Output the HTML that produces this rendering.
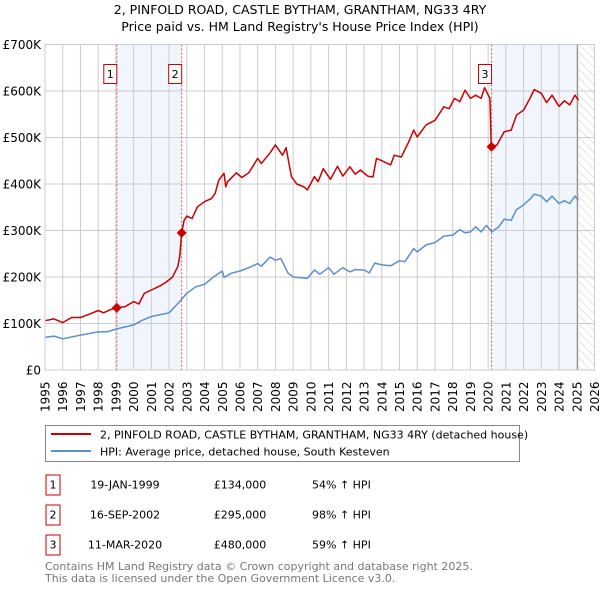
<!DOCTYPE html>
<html><head><meta charset="utf-8"><style>
body{margin:0;background:#fff;font-family:"Liberation Sans","DejaVu Sans",sans-serif;}
svg text{font-family:"DejaVu Sans","Liberation Sans",sans-serif;}
</style></head><body>
<svg id="c" width="600" height="590" xmlns="http://www.w3.org/2000/svg">
<defs><pattern id="hatch" width="6" height="6" patternUnits="userSpaceOnUse" patternTransform="rotate(-45)"><line x1="0" y1="0" x2="0" y2="6" stroke="#ccc" stroke-width="1"/></pattern></defs>
<text x="300" y="14" text-anchor="middle" font-size="12.5">2, PINFOLD ROAD, CASTLE BYTHAM, GRANTHAM, NG33 4RY</text>
<text x="300" y="31" text-anchor="middle" font-size="12.5">Price paid vs. HM Land Registry's House Price Index (HPI)</text>
<g id="plot"></g>
<rect x="45.5" y="425.5" width="474" height="36" fill="#fff" stroke="#888"/>
<line x1="51" y1="434" x2="91" y2="434" stroke="#cc0000" stroke-width="2"/>
<text x="100" y="438.5" font-size="11">2, PINFOLD ROAD, CASTLE BYTHAM, GRANTHAM, NG33 4RY (detached house)</text>
<line x1="51" y1="451" x2="91" y2="451" stroke="#5b8fd0" stroke-width="2"/>
<text x="100" y="455.5" font-size="11">HPI: Average price, detached house, South Kesteven</text>
<g font-size="11">
<rect x="46" y="475" width="14" height="20" fill="#fff" stroke="#cc0000"/><text x="53" y="488.5" text-anchor="middle">1</text>
<text x="125" y="488.5" text-anchor="middle">19-JAN-1999</text><text x="240" y="488.5" text-anchor="middle">£134,000</text><text x="312" y="488.5">54% ↑ HPI</text>
<rect x="46" y="505" width="14" height="20" fill="#fff" stroke="#cc0000"/><text x="53" y="518.5" text-anchor="middle">2</text>
<text x="125" y="518.5" text-anchor="middle">16-SEP-2002</text><text x="240" y="518.5" text-anchor="middle">£295,000</text><text x="312" y="518.5">98% ↑ HPI</text>
<rect x="46" y="535" width="14" height="20" fill="#fff" stroke="#cc0000"/><text x="53" y="548.5" text-anchor="middle">3</text>
<text x="125" y="548.5" text-anchor="middle">11-MAR-2020</text><text x="240" y="548.5" text-anchor="middle">£480,000</text><text x="312" y="548.5">59% ↑ HPI</text>
</g>
<text x="45" y="570" font-size="11" fill="#777">Contains HM Land Registry data © Crown copyright and database right 2025.</text>
<text x="45" y="582" font-size="11" fill="#777">This data is licensed under the Open Government Licence v3.0.</text>
</svg>
<script>
const hpiYears=[1995,1995.5,1996,1997,1998,1998.5,1999,2000,2000.5,2001,2002,2002.5,2003,2003.5,2004,2004.5,2005,2005.1,2005.5,2006,2006.5,2007,2007.2,2007.7,2008,2008.3,2008.7,2009,2009.8,2010.2,2010.5,2011,2011.3,2011.8,2012.2,2012.5,2013,2013.3,2013.6,2014,2014.5,2015,2015.3,2015.8,2016,2016.5,2017,2017.5,2018,2018.4,2018.7,2019,2019.3,2019.6,2019.9,2020.2,2020.6,2020.9,2021.3,2021.6,2022,2022.4,2022.6,2023,2023.3,2023.6,2024,2024.3,2024.6,2024.9,2025.1];
const hpiValues=[70,73,67,75,82,82,88,97,107,115,123,143,165,179,184,200,213,199,208,213,220,229,223,243,236,240,209,200,197,215,206,220,206,220,211,216,215,209,230,226,224,235,233,261,254,269,274,288,290,302,295,297,308,297,311,297,308,324,322,345,355,369,378,374,362,374,358,364,358,374,365];
const priceYears=[1995,1995.5,1996,1996.5,1997,1997.5,1998,1998.3,1998.7,1999.05,1999.5,2000,2000.3,2000.6,2001,2001.5,2001.8,2002.2,2002.5,2002.6,2002.71,2002.85,2003,2003.3,2003.6,2004,2004.4,2004.6,2004.8,2005.1,2005.2,2005.3,2005.8,2006.1,2006.5,2007,2007.2,2007.7,2008,2008.4,2008.6,2008.9,2009.2,2009.6,2009.8,2010.2,2010.4,2010.7,2011.1,2011.5,2011.8,2012.2,2012.5,2012.8,2013.2,2013.5,2013.7,2014,2014.5,2014.7,2015.1,2015.5,2015.8,2016,2016.5,2017,2017.5,2017.8,2018.1,2018.4,2018.7,2019,2019.3,2019.6,2019.8,2020.1,2020.17,2020.19,2020.5,2020.9,2021.3,2021.6,2022,2022.4,2022.6,2023,2023.3,2023.6,2024,2024.3,2024.6,2024.9,2025.1];
const priceValues=[106,110,102,113,113,120,128,123,130,134,136,147,142,165,172,181,188,200,223,244,295,322,331,326,351,362,369,380,408,423,394,405,424,414,424,455,444,467,484,462,478,416,400,394,387,416,405,433,410,438,417,437,421,430,417,415,455,450,441,462,458,489,516,501,527,537,566,562,584,577,602,584,591,584,607,584,484,480,484,512,516,548,559,587,603,595,575,591,567,579,570,591,580];
const saleYears=[1999.05,2002.71,2020.19];
const saleValues=[134,295,480];
const saleLabels=["1","2","3"];
const yTicks=[0,100,200,300,400,500,600,700];
const yTickLabels=["£0","£100K","£200K","£300K","£400K","£500K","£600K","£700K"];
const xTicks=[1995,1996,1997,1998,1999,2000,2001,2002,2003,2004,2005,2006,2007,2008,2009,2010,2011,2012,2013,2014,2015,2016,2017,2018,2019,2020,2021,2022,2023,2024,2025,2026];

const X0=45,X1=594.5,Y0=370,Y1=44.5;
const xs=y=>X0+(y-1995)/(2026-1995)*(X1-X0);
const ys=v=>Y0-v/700*(Y0-Y1);
const NS="http://www.w3.org/2000/svg";
const g=document.getElementById('plot');
function mk(t,a,p){const e=document.createElementNS(NS,t);for(const k in a)e.setAttribute(k,a[k]);(p||g).appendChild(e);return e;}
// shading
let e;
e=mk('rect',{x:xs(saleYears[0]),y:Y1,width:xs(saleYears[1])-xs(saleYears[0]),height:Y0-Y1,fill:'#eef3fc',opacity:0.8});


e=mk('rect',{x:xs(saleYears[2]),y:Y1,width:xs(2025.05)-xs(saleYears[2]),height:Y0-Y1,fill:'#eef3fc',opacity:0.8});


e=mk('rect',{x:xs(2025.1),y:Y1,width:X1-xs(2025.1),height:Y0-Y1,fill:'url(#hatch)'});


// grid
yTicks.forEach((v,i)=>{
 e=mk('line',{x1:X0,x2:X1,y1:ys(v),y2:ys(v),stroke:'#ccc'});
 
 
 e=mk('text',{x:X0-4,y:ys(v)+4.5,'text-anchor':'end','font-size':'12'});e.textContent=yTickLabels[i];
 
 
});
xTicks.forEach(t=>{
 e=mk('line',{x1:xs(t),x2:xs(t),y1:Y1,y2:Y0,stroke:'#ccc'});
 
 
 e=mk('text',{x:0,y:0,'font-size':'12',transform:`translate(${xs(t)+4.5},${412}) rotate(-90)`});e.textContent=t;
 
 
});
e=mk('line',{x1:xs(2025.05),x2:xs(2025.05),y1:Y1,y2:Y0,stroke:'#888'});


// sale lines
saleYears.forEach((s,i)=>{
 e=mk('line',{x1:xs(s),x2:xs(s),y1:Y1,y2:Y0,stroke:'#e05050','stroke-dasharray':'2,2'});
 
 
});
function path(xa,va,col,name){
 const d=xa.map((x,i)=>(i?'L':'M')+xs(x).toFixed(1)+','+ys(va[i]).toFixed(1)).join('');
 e=mk('path',{d,fill:'none',stroke:col,'stroke-width':1.5,'stroke-linejoin':'round'});
 
 
}
path(hpiYears,hpiValues,'#5b8fd0','hpi-line');
path(priceYears,priceValues,'#cc0000','price-line');
saleYears.forEach((s,i)=>{
 const cx=xs(s),cy=ys(saleValues[i]);
 e=mk('path',{d:`M${cx},${cy-5}L${cx+5},${cy}L${cx},${cy+5}L${cx-5},${cy}Z`,fill:'#cc0000'});
 
 
 e=mk('rect',{x:cx-13,y:64.5,width:13,height:19,fill:'#fff',stroke:'#cc0000'});
 
 
 e=mk('text',{x:cx-6.5,y:78,'text-anchor':'middle','font-size':'11'});e.textContent=saleLabels[i];
 
 
});
e=mk('rect',{x:X0,y:Y1,width:X1-X0,height:Y0-Y1,fill:'none',stroke:'#ccc'});


</script>
</body></html>
